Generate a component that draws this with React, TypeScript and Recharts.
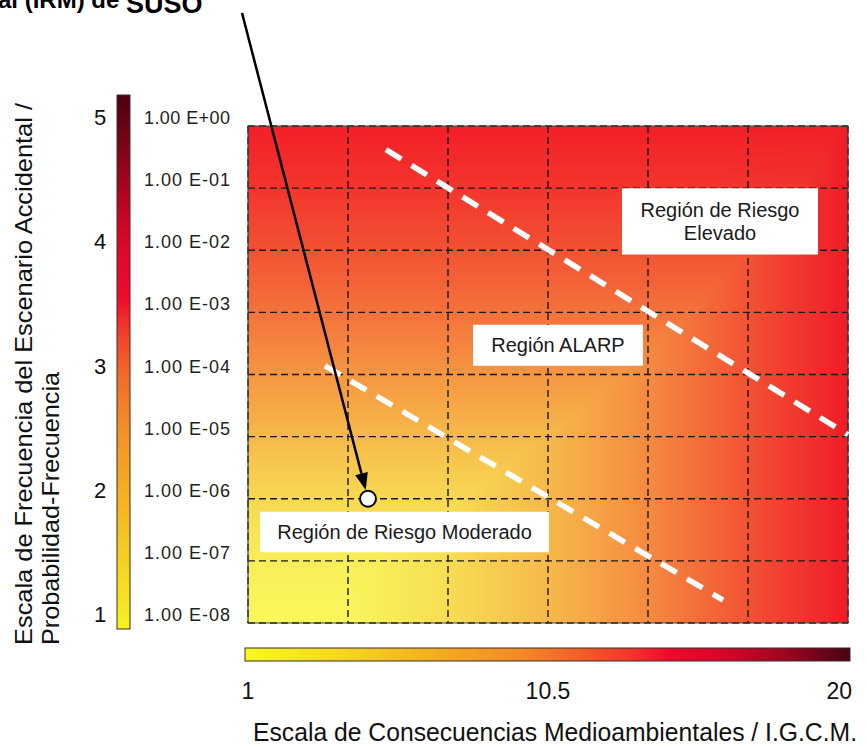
import React from "react";
import {
  ComposedChart,
  XAxis,
  YAxis,
  CartesianGrid,
  Scatter,
  ReferenceLine,
  ReferenceArea,
} from "recharts";

const FONT = '"Liberation Sans", Arial, Helvetica, sans-serif';

// consequence scale (columns) and frequency scale (rows)
const consequenceGrid = [0, 1, 2, 3, 4, 5, 6];
const consequenceLabels = ["1", "", "", "10.5", "", "", "20"];
const frequencyGrid = [0, 1, 2, 3, 4, 5, 6, 7, 8];
const frequencyLabels = [
  "1.00 E-08",
  "1.00 E-07",
  "1.00 E-06",
  "1.00 E-05",
  "1.00 E-04",
  "1.00 E-03",
  "1.00 E-02",
  "1.00 E-01",
  "1.00 E+00",
];
const levelLabels = ["1", "", "2", "", "3", "", "4", "", "5"];

// ALARP boundaries
const upperBoundary = [
  { x: 1.38, y: 7.62 },
  { x: 6, y: 3.03 },
];
const lowerBoundary = [
  { x: 0.77, y: 4.14 },
  { x: 4.75, y: 0.37 },
];

// evaluated scenario
const scenarioPoint = [{ x: 1.2, y: 2 }];
const arrowStart = { x: -0.06, y: 9.82 };

const regionBoxes = [
  { lines: ["Región de Riesgo", "Elevado"], x1: 3.74, x2: 5.7, y1: 5.93, y2: 7.0 },
  { lines: ["Región ALARP"], x1: 2.25, x2: 3.95, y1: 4.14, y2: 4.8 },
  { lines: ["Región de Riesgo Moderado"], x1: 0.12, x2: 3.01, y1: 1.14, y2: 1.79 },
];

const FrequencyTick = (p: any) => {
  const { x, y, payload } = p;
  const i = frequencyGrid.indexOf(payload.value);
  return (
    <g>
      <text
        x={x - 86}
        y={y - 2}
        textAnchor="start"
        fontSize={18}
        fill="#222"
        fontFamily={FONT}
        textLength={86}
        lengthAdjust="spacing"
      >
        {frequencyLabels[i]}
      </text>
      {levelLabels[i] && (
        <text x={x - 130} y={y - 1} textAnchor="middle" fontSize={22} fill="#111" fontFamily={FONT}>
          {levelLabels[i]}
        </text>
      )}
    </g>
  );
};

const ConsequenceTick = (p: any) => {
  const { x, y, payload } = p;
  const i = consequenceGrid.indexOf(payload.value);
  const label = consequenceLabels[i];
  if (!label) return <g />;
  const last = i === consequenceGrid.length - 1;
  return (
    <text
      x={last ? x + 4 : x}
      y={y + 76}
      textAnchor={last ? "end" : "middle"}
      fontSize={23}
      fill="#111"
      fontFamily={FONT}
    >
      {label}
    </text>
  );
};

const BoxText = (p: any) => {
  const { viewBox, lines } = p;
  const cx = viewBox.x + viewBox.width / 2;
  const cy = viewBox.y + viewBox.height / 2;
  return (
    <g>
      {lines.map((l: string, i: number) => (
        <text
          key={i}
          x={cx}
          y={cy + 7 + (i - (lines.length - 1) / 2) * 23}
          textAnchor="middle"
          fontSize={20}
          fill="#1a1a1a"
          fontFamily={FONT}
        >
          {l}
        </text>
      ))}
    </g>
  );
};

const ArrowShape = (p: any) => {
  const { x1, y1, x2, y2 } = p;
  const dx = x2 - x1;
  const dy = y2 - y1;
  const len = Math.hypot(dx, dy) || 1;
  const ux = dx / len;
  const uy = dy / len;
  const tipX = x2 - ux * 9;
  const tipY = y2 - uy * 9;
  const bx = tipX - ux * 17;
  const by = tipY - uy * 17;
  const w = 6.5;
  return (
    <g>
      <line x1={x1} y1={y1} x2={bx} y2={by} stroke="#000" strokeWidth={2.5} />
      <polygon
        points={`${tipX},${tipY} ${bx - uy * w},${by + ux * w} ${bx + uy * w},${by - ux * w}`}
        fill="#000"
      />
    </g>
  );
};

export default function App() {
  return (
    <div
      style={{
        position: "absolute",
        left: 0,
        top: 0,
        width: 867,
        height: 747,
        background: "#fff",
        fontFamily: FONT,
      }}
    >
      <ComposedChart
        width={867}
        height={747}
        margin={{ top: 126, right: 19, bottom: 48, left: 98 }}
      >
        <defs>
          <linearGradient id="bgV" x1="0" y1="1" x2="0" y2="0">
            <stop offset="0" stopColor="#f9f95c" />
            <stop offset="0.125" stopColor="#f8ee58" />
            <stop offset="0.25" stopColor="#f7d952" />
            <stop offset="0.375" stopColor="#f6b94a" />
            <stop offset="0.5" stopColor="#f59642" />
            <stop offset="0.625" stopColor="#f4723b" />
            <stop offset="0.75" stopColor="#f25233" />
            <stop offset="0.875" stopColor="#f3352d" />
            <stop offset="1" stopColor="#f31f28" />
          </linearGradient>
          <linearGradient id="bgH" x1="0" y1="0" x2="1" y2="0">
            <stop offset="0" stopColor="#f9f95c" />
            <stop offset="0.167" stopColor="#f9f55c" />
            <stop offset="0.333" stopColor="#f7dd53" />
            <stop offset="0.5" stopColor="#f6b94a" />
            <stop offset="0.667" stopColor="#f58a40" />
            <stop offset="0.833" stopColor="#f25233" />
            <stop offset="1" stopColor="#f01c28" />
          </linearGradient>
          <pattern
            id="bgPattern"
            patternUnits="objectBoundingBox"
            patternContentUnits="objectBoundingBox"
            width="1"
            height="1"
          >
            <rect x="0" y="0" width="1" height="1" fill="url(#bgV)" />
            <rect
              x="0"
              y="0"
              width="1"
              height="1"
              fill="url(#bgH)"
              style={{ mixBlendMode: "darken" }}
            />
          </pattern>
        </defs>
        <CartesianGrid
          fill="url(#bgPattern)"
          stroke="#1a1a1a"
          strokeWidth={1.4}
          strokeDasharray="7 4"
        />
        <XAxis
          type="number"
          dataKey="x"
          domain={[0, 6]}
          ticks={consequenceGrid}
          interval={0}
          axisLine={false}
          tickLine={false}
          tickSize={0}
          tickMargin={0}
          height={76}
          tick={<ConsequenceTick />}
        />
        <YAxis
          type="number"
          dataKey="y"
          domain={[0, 8]}
          ticks={frequencyGrid}
          interval={0}
          axisLine={false}
          tickLine={false}
          tickSize={0}
          tickMargin={18}
          width={150}
          tick={<FrequencyTick />}
        />
        <ReferenceArea
          x1={0}
          x2={6}
          y1={0}
          y2={8}
          fill="none"
          stroke="#444"
          strokeWidth={1.2}
          ifOverflow="visible"
        />
        <ReferenceLine
          segment={upperBoundary}
          stroke="#fff"
          strokeWidth={5.5}
          strokeDasharray="18 12"
          ifOverflow="visible"
        />
        <ReferenceLine
          segment={lowerBoundary}
          stroke="#fff"
          strokeWidth={5.5}
          strokeDasharray="18 12"
          ifOverflow="visible"
        />
        {regionBoxes.map((r, i) => (
          <ReferenceArea
            key={i}
            x1={r.x1}
            x2={r.x2}
            y1={r.y1}
            y2={r.y2}
            fill="#fff"
            fillOpacity={1}
            stroke="none"
            ifOverflow="visible"
            label={<BoxText lines={r.lines} />}
          />
        ))}
        <ReferenceLine
          segment={[arrowStart, scenarioPoint[0]]}
          ifOverflow="visible"
          shape={<ArrowShape />}
        />
        <Scatter
          data={scenarioPoint}
          dataKey="y"
          isAnimationActive={false}
          shape={(p: any) => (
            <circle cx={p.cx} cy={p.cy} r={8} fill="#fff" stroke="#000" strokeWidth={2} />
          )}
        />
      </ComposedChart>

      <svg
        width={867}
        height={747}
        style={{ position: "absolute", left: 0, top: 0, pointerEvents: "none" }}
      >
        <defs>
          <linearGradient id="barV" x1="0" y1="1" x2="0" y2="0">
            <stop offset="0" stopColor="#f7f21f" />
            <stop offset="0.13" stopColor="#f6d020" />
            <stop offset="0.25" stopColor="#f5b020" />
            <stop offset="0.37" stopColor="#f49026" />
            <stop offset="0.47" stopColor="#f36c28" />
            <stop offset="0.56" stopColor="#f23a2a" />
            <stop offset="0.62" stopColor="#f00a2c" />
            <stop offset="0.71" stopColor="#e0082a" />
            <stop offset="0.8" stopColor="#b80522" />
            <stop offset="0.9" stopColor="#800418" />
            <stop offset="1" stopColor="#4a0010" />
          </linearGradient>
          <linearGradient id="barH" x1="0" y1="0" x2="1" y2="0">
            <stop offset="0" stopColor="#f8f820" />
            <stop offset="0.15" stopColor="#f6d820" />
            <stop offset="0.3" stopColor="#f5b020" />
            <stop offset="0.45" stopColor="#f48a26" />
            <stop offset="0.55" stopColor="#f36028" />
            <stop offset="0.63" stopColor="#f23a2a" />
            <stop offset="0.7" stopColor="#f00a2c" />
            <stop offset="0.8" stopColor="#d00828" />
            <stop offset="0.9" stopColor="#9a0420" />
            <stop offset="1" stopColor="#4a0010" />
          </linearGradient>
        </defs>
        <rect x={117} y={95} width={13} height={534} fill="url(#barV)" stroke="#333" strokeWidth={1} />
        <rect x={245} y={648} width={605} height={13} fill="url(#barH)" stroke="#333" strokeWidth={1} />

        <text
          transform="translate(32,645) rotate(-90)"
          fontSize={24}
          fill="#111"
          fontFamily={FONT}
          textLength={542}
          lengthAdjust="spacingAndGlyphs"
        >
          Escala de Frecuencia del Escenario Accidental /
        </text>
        <text
          transform="translate(59,645) rotate(-90)"
          fontSize={24}
          fill="#111"
          fontFamily={FONT}
          textLength={273}
          lengthAdjust="spacingAndGlyphs"
        >
          Probabilidad-Frecuencia
        </text>
        <text
          x={253}
          y={741}
          fontSize={25}
          fill="#111"
          fontFamily={FONT}
          textLength={604}
          lengthAdjust="spacingAndGlyphs"
        >
          Escala de Consecuencias Medioambientales / I.G.C.M.
        </text>
        <text x={-2} y={8} fontSize={24} fontWeight="bold" fill="#000" fontFamily={FONT}>
          al (IRM) de <tspan fontSize={27} dy={5}>SUSO</tspan>
        </text>
      </svg>
    </div>
  );
}
